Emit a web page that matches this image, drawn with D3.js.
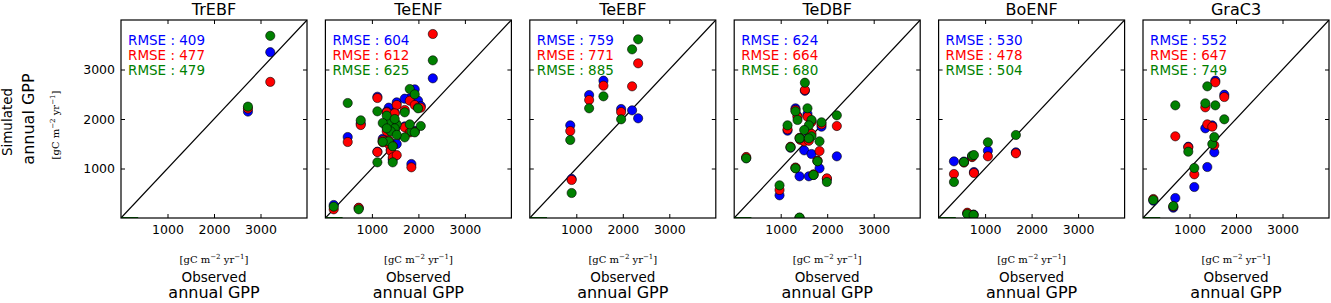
<!DOCTYPE html>
<html>
<head>
<meta charset="utf-8">
<script src="https://cdn.jsdelivr.net/npm/d3@7"></script>
<style>
body { margin: 0; background: #fff; }
text { font-family: "DejaVu Sans", sans-serif; fill: #000; }
.unit { font-family: "DejaVu Serif", serif; }
</style>
</head>
<body>
<div id="chart"></div>
<script>
// plant functional types, one panel each
var pfts = ["TrEBF", "TeENF", "TeEBF", "TeDBF", "BoENF", "GraC3"];

var rmseBlue = [409, 604, 759, 624, 530, 552];
var rmseRed = [477, 612, 771, 664, 478, 647];
var rmseGreen = [479, 625, 885, 680, 504, 749];

var tickVals = [1000, 2000, 3000];

// observed GPP per site, and the three simulations (blue, red, green)
var trebfObs = [2730, 3210];
var trebfBlue = [2150, 3350];
var trebfRed = [2210, 2750];
var trebfGreen = [2250, 3680];

var teenfObs = [179, 716, 480, 760, 1118, 1118, 1849, 2310, 1814, 1921, 1993, 2051, 1534, 1706, 1362, 1319, 1491, 1706, 1814, 1921, 1233, 1362, 1405, 1448, 1448, 1534, 1491, 1319, 1233];
var teenfBlue = [263, 200, 1636, 1910, 2450, 1340, 1091, 2822, 2417, 2599, 2370, 2263, 2336, 2410, 2229, 2150, 2130, 1850, 1750, 1760, 1600, 1520, 1380, 1500, 1180, 1495, 1800, 1830, 1550];
var teenfRed = [176, 208, 1535, 1878, 2424, 1333, 1024, 3717, 2370, 2283, 2230, 2229, 2283, 2182, 1569, 2135, 2114, 1832, 1730, 1740, 1569, 1495, 1354, 1460, 1225, 1270, 1778, 1751, 1530];
var teenfGreen = [229, 176, 2323, 1973, 2155, 1125, 1750, 3185, 2606, 2498, 2216, 1859, 1892, 2135, 1919, 2067, 1811, 1629, 1892, 1730, 1919, 1549, 1751, 1448, 1124, 1680, 2000, 1811, 1540];

var teebfObs = [870, 900, 1276, 1584, 1964, 2200, 2330];
var teebfBlue = [1872, 790, 2485, 2774, 2202, 2175, 2014];
var teebfRed = [1757, 768, 2384, 2673, 2141, 2660, 3125];
var teebfGreen = [1576, 505, 2216, 2458, 1994, 3407, 3609];

var tedbfObs = [1520, 1318, 1576, 1662, 1362, 2207, 1878, 1147, 1605, 1419, 1505, 1662, 1835, 1211, 1791, 1318, 1405, 1605, 1706, 1993, 975, 258, 1405];
var tedbfBlue = [2570, 2215, 2100, 1960, 2060, 1246, 1845, 1764, 1700, 1600, 1367, 1293, 1003, 1420, 1150, 1010, 842, 842, 870, 790, 458, 1210, 0];
var tedbfRed = [2586, 2182, 2047, 1940, 2047, 1858, 1892, 1791, 1750, 1580, 1550, 1700, 1353, 1440, 1160, 1020, 1620, 1560, 882, 801, 566, 1233, 0];
var tedbfGreen = [2733, 2155, 2216, 1980, 1980, 2074, 1933, 1872, 1872, 1609, 1778, 1650, 1549, 1428, 1145, 1003, 1609, 1609, 870, 727, 660, 1205, 10];

var boenfObs = [330, 545, 720, 760, 1060, 1662, 617, 752];
var boenfBlue = [1145, 1140, 1240, 929, 1360, 1327, 90, 70];
var boenfRed = [889, 1120, 1230, 909, 1246, 1307, 107, 60];
var boenfGreen = [727, 1131, 1258, 1272, 1529, 1677, 81, 61];

var grac3Obs = [222, 652, 695, 974, 1103, 1340, 1383, 1490, 1533, 1555, 1748];
var grac3Blue = [350, 208, 404, 1440, 626, 1812, 1030, 1870, 1327, 2774, 2491];
var grac3Red = [384, 230, 1650, 1428, 883, 2236, 1892, 1845, 1470, 2741, 2444];
var grac3Green = [364, 242, 2276, 1340, 1010, 2317, 2660, 1495, 1636, 2276, 1994];

// short green segment along the bottom of every panel
var baseObs = [0, 370];
var baseSim = [0, 0];

var panelObs = [trebfObs, teenfObs, teebfObs, tedbfObs, boenfObs, grac3Obs];
var panelSims = [
    [trebfBlue, trebfRed, trebfGreen],
    [teenfBlue, teenfRed, teenfGreen],
    [teebfBlue, teebfRed, teebfGreen],
    [tedbfBlue, tedbfRed, tedbfGreen],
    [boenfBlue, boenfRed, boenfGreen],
    [grac3Blue, grac3Red, grac3Green]
];
var colors = ["#0000ff", "#ff0000", "#008000"];

var width = 1331, height = 303;
var pw = 186, ph = 198, marginTop = 20, left0 = 121, step = 204.4;

var svg = d3.select("#chart").append("svg")
    .attr("width", width)
    .attr("height", height);

svg.append("defs").append("clipPath").attr("id", "clip")
    .append("rect").attr("width", pw).attr("height", ph);

var x = d3.scaleLinear().domain([0, 4000]).range([0, pw]);
var y = d3.scaleLinear().domain([0, 4000]).range([ph, 0]);

function unitLabel(sel) {
    sel.append("tspan").text("[gC m");
    sel.append("tspan").attr("baseline-shift", "super").attr("font-size", "7px").text("\u22122");
    sel.append("tspan").text(" yr");
    sel.append("tspan").attr("baseline-shift", "super").attr("font-size", "7px").text("\u22121");
    sel.append("tspan").text("]");
}

pfts.forEach(function (name, i) {
    var g = svg.append("g")
        .attr("transform", `translate(${left0 + i * step},${marginTop})`);

    var plot = g.append("g").attr("clip-path", "url(#clip)");

    plot.append("line")
        .attr("x1", x(0)).attr("y1", y(0))
        .attr("x2", x(4000)).attr("y2", y(4000))
        .attr("stroke", "#000").attr("stroke-width", 1.2);

    plot.append("path")
        .datum(d3.zip(baseObs, baseSim))
        .attr("d", d3.line().x(d => x(d[0])).y(d => y(d[1])))
        .attr("fill", "none").attr("stroke", "#008000").attr("stroke-width", 2);

    var obs = panelObs[i];
    panelSims[i].forEach(function (sim, k) {
        plot.selectAll(null)
            .data(d3.zip(obs, sim))
            .enter()
            .append("circle")
            .attr("cx", d => x(d[0]))
            .attr("cy", d => y(d[1]))
            .attr("r", 4.6)
            .attr("fill", colors[k])
            .attr("stroke", "#000")
            .attr("stroke-width", 0.6);
    });

    // axes with inward ticks on all four sides
    var xb = g.append("g").attr("transform", `translate(0,${ph})`)
        .call(d3.axisBottom(x).tickValues(tickVals).tickSize(-4).tickPadding(7).tickFormat(d3.format("d")));
    var xt = g.append("g")
        .call(d3.axisTop(x).tickValues(tickVals).tickSize(-4).tickFormat(""));
    var yl = g.append("g")
        .call(d3.axisLeft(y).tickValues(tickVals).tickSize(-4).tickPadding(6)
            .tickFormat(i == 0 ? d3.format("d") : ""));
    var yr = g.append("g").attr("transform", `translate(${pw},0)`)
        .call(d3.axisRight(y).tickValues(tickVals).tickSize(-4).tickFormat(""));

    [xb, xt, yl, yr].forEach(function (a) {
        a.select(".domain").remove();
        a.selectAll("text").attr("font-size", "12.5px").attr("font-family", "DejaVu Sans");
        a.selectAll("line").attr("stroke", "#000");
    });

    g.append("rect")
        .attr("width", pw).attr("height", ph)
        .attr("fill", "none").attr("stroke", "#000").attr("stroke-width", 1.2);

    g.append("text")
        .attr("x", pw / 2).attr("y", -5)
        .attr("text-anchor", "middle")
        .attr("font-size", "16px")
        .text(name);

    [rmseBlue, rmseRed, rmseGreen].forEach(function (r, k) {
        g.append("text")
            .attr("x", 7).attr("y", 25 + k * 15)
            .attr("font-size", "13.5px")
            .style("fill", colors[k])
            .text("RMSE : " + r[i]);
    });

    // x labels
    g.append("text").attr("class", "unit")
        .attr("x", pw / 2).attr("y", 243)
        .attr("text-anchor", "middle").attr("font-size", "10px")
        .call(unitLabel);
    g.append("text")
        .attr("x", pw / 2).attr("y", 262)
        .attr("text-anchor", "middle").attr("font-size", "13.5px")
        .text("Observed");
    g.append("text")
        .attr("x", pw / 2).attr("y", 278)
        .attr("text-anchor", "middle").attr("font-size", "16px")
        .text("annual GPP");
});

// y labels, left of the first panel
var yText = svg.append("g");
yText.append("text")
    .attr("transform", "translate(12,122)rotate(-90)")
    .attr("text-anchor", "middle").attr("font-size", "13.5px")
    .text("Simulated");
yText.append("text")
    .attr("transform", "translate(34,119)rotate(-90)")
    .attr("text-anchor", "middle").attr("font-size", "16px")
    .text("annual GPP");
yText.append("text").attr("class", "unit")
    .attr("transform", "translate(59,125)rotate(-90)")
    .attr("text-anchor", "middle").attr("font-size", "10px")
    .call(unitLabel);
</script>
</body>
</html>
